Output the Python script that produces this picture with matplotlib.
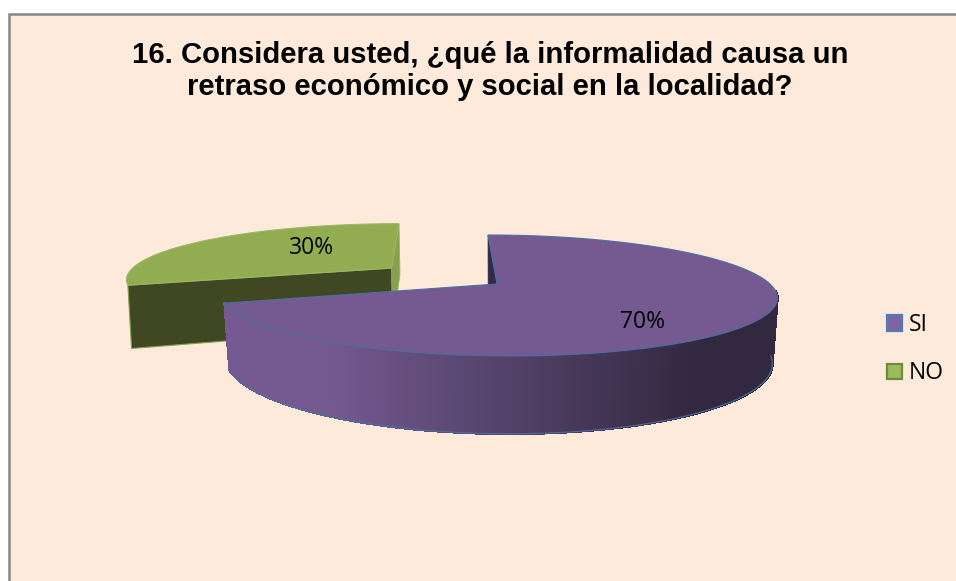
import numpy as np
import matplotlib
matplotlib.use("Agg")
import matplotlib.pyplot as plt
from matplotlib.collections import PolyCollection
from matplotlib.patches import Patch, Rectangle
from matplotlib.colors import to_rgb

title_text = "16. Considera usted, ¿qué la informalidad causa un\nretraso económico y social en la localidad?"
categories = ["SI", "NO"]
values = [70, 30]

BG = "#FDEADA"
W, H = 956, 581
# perspective projection of the unit pie disc on to the pixel-sized axes
CX, CY, RX, RY, TILT, SKEW, DEPTH = 497, 284, 273, 58.3, 0.19, -10.7, 63
EXPLODE = 0.49


def project(u, v, bottom=False, shrink=0.982):
    u, v = np.asarray(u, float), np.asarray(v, float)
    s = 1 / (1 + TILT * v)
    x = RX * u * s + SKEW * v * s
    y = CY - RY * v * s
    if bottom:
        x = x * shrink
        y = y + DEPTH * s
    return np.column_stack([CX + x, y])


def arc(a0, a1, ou=0.0, ov=0.0, n=240):
    t = np.radians(np.linspace(a0, a1, n))
    return ou + np.sin(t), ov + np.cos(t)


fig = plt.figure(figsize=(W / 100, H / 100), dpi=100, facecolor="white")
ax = fig.add_axes([0, 0, 1, 1])
ax.set_xlim(0, W)
ax.set_ylim(H, 0)
ax.axis("off")
ax.add_patch(Rectangle((9.5, 13.5), W, H, facecolor=BG, edgecolor="#868686", linewidth=1.8))

total = sum(values)
split = 360 * values[0] / total  # slices run clockwise from 12 o'clock

# ---- NO slice, pulled out along its bisector
mid = np.radians((split + 360) / 2)
ou, ov = EXPLODE * np.sin(mid), EXPLODE * np.cos(mid)
au, av = arc(split, 360, ou, ov)
corner_l = (au[0], av[0])
corner_t = (au[-1], av[-1])
centre = (ou, ov)


def wall(p, q, shrink=0.982):
    top = project([p[0], q[0]], [p[1], q[1]])
    bot = project([q[0], p[0]], [q[1], p[1]], bottom=True, shrink=shrink)
    return np.vstack([top, bot])


ax.fill(*wall(corner_t, centre, 0.99).T, facecolor="#86A04C", edgecolor="#9BB45F", linewidth=0.6, zorder=2)
ax.fill(*wall(corner_l, centre, 0.99).T, facecolor="#3F4822", edgecolor="#84A04F", linewidth=0.8, zorder=3)
ax.fill(*project(np.r_[au, ou], np.r_[av, ov]).T, facecolor="#92AC52", edgecolor="#9DB665",
        linewidth=0.8, zorder=4)

# ---- SI slice
bu, bv = arc(0, split)
ax.fill(*wall((bu[0], bv[0]), (0, 0)).T, facecolor="#33294A", edgecolor="#33294A", linewidth=0.5, zorder=5)

# outer wall with a horizontal light-to-dark gradient, only the part facing the viewer
front = np.where(np.degrees(np.arctan2(bu, bv)) % 360 >= 96)[0]
fu, fv = bu[front], bv[front]
ptop, pbot = project(fu, fv), project(fu, fv, bottom=True)
light, dark = np.array(to_rgb("#745A91")), np.array(to_rgb("#322840"))
polys, cols = [], []
for i in range(len(fu) - 1):
    polys.append([ptop[i], ptop[i + 1], pbot[i + 1], pbot[i]])
    t = np.clip(((ptop[i][0] + ptop[i + 1][0]) / 2 - 320) / (700 - 320), 0, 1)
    cols.append(light + (dark - light) * t)
ax.add_collection(PolyCollection(polys, facecolors=cols, edgecolors=cols, linewidths=1.2,
                                 antialiaseds=False, zorder=6))
ax.plot(*pbot.T, color="#4A6F9E", lw=0.8, zorder=7)

ax.fill(*project(np.r_[bu, 0], np.r_[bv, 0]).T, facecolor="#755A92", edgecolor="#4A6F9E",
        linewidth=0.8, zorder=8)

# ---- texts
ax.text(490, 71, title_text, ha="center", va="center", fontsize=21.1, fontweight="bold",
        family="Liberation Sans", color="black", linespacing=1.2, zorder=10)
pct = [f"{100 * v / total:.0f}%" for v in values]
ax.text(643, 322, pct[0], ha="center", va="center", fontsize=16.5, family="Open Sans", color="black", zorder=10)
ax.text(312, 248, pct[1], ha="center", va="center", fontsize=16.5, family="Open Sans", color="black", zorder=10)

handles = [Patch(facecolor="#8064A2", edgecolor="#4A7EBB", linewidth=1.6),
           Patch(facecolor="#9BBB59", edgecolor="#71893F", linewidth=1.6)]
ax.legend(handles, categories, loc="upper left", bbox_to_anchor=(887 / W, 1 - 313 / H), frameon=False,
          prop={"family": "Open Sans", "size": 16.5}, handlelength=0.66, handleheight=0.66,
          handletextpad=0.3, labelspacing=1.06, borderpad=0, borderaxespad=0)

fig.savefig("out.png", dpi=100, facecolor="white")
